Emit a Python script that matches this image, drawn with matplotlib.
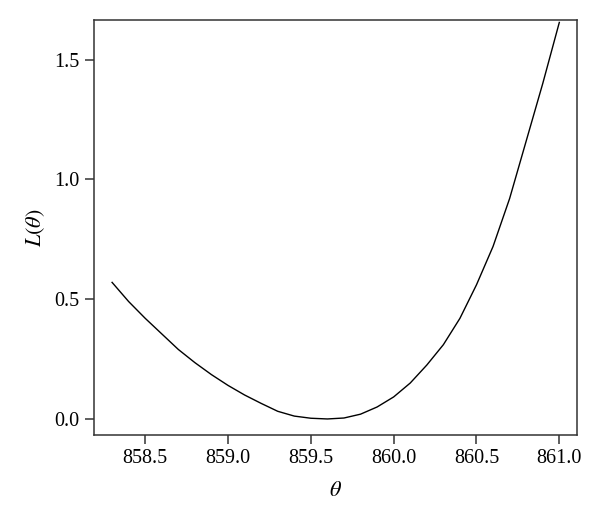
import matplotlib
matplotlib.use("Agg")
import matplotlib.pyplot as plt

# values (step 0.1)
theta = [858.3, 858.4, 858.5, 858.6, 858.7, 858.8, 858.9, 859.0, 859.1, 859.2,
         859.3, 859.4, 859.5, 859.6, 859.7, 859.8, 859.9, 860.0, 860.1, 860.2,
         860.3, 860.4, 860.5, 860.6, 860.7, 860.8, 860.9, 861.0]
loss = [0.57, 0.49, 0.42, 0.355, 0.29, 0.235, 0.185, 0.14, 0.10, 0.065,
        0.032, 0.012, 0.003, 0.0, 0.004, 0.02, 0.05, 0.092, 0.15, 0.225,
        0.31, 0.42, 0.56, 0.72, 0.92, 1.16, 1.40, 1.655]

xticks = [858.5, 859.0, 859.5, 860.0, 860.5, 861.0]
yticks = [0.0, 0.5, 1.0, 1.5]

plt.rcParams['font.family'] = ['Liberation Serif', 'DejaVu Serif']
plt.rcParams['mathtext.fontset'] = 'stix'

fig = plt.figure(figsize=(6, 5.27), dpi=100)
ax = fig.add_axes([0.157, 0.175, 0.805, 0.787])

ax.plot(theta, loss, color='black', linewidth=1.0)

ax.set_xlim(858.192, 861.108)
ax.set_ylim(-0.066, 1.665)
ax.set_xticks(xticks)
ax.set_xticklabels([f"{t:.1f}" for t in xticks])
ax.set_yticks(yticks)
ax.set_yticklabels([f"{t:.1f}" for t in yticks])

for sp in ax.spines.values():
    sp.set_color('#333333')
    sp.set_linewidth(1.1)
ax.tick_params(direction='out', length=6.5, width=1.1, color='#333333',
               labelsize=14.5, pad=4)

ax.set_xlabel(r'$\theta$', fontsize=16, labelpad=10)
ax.set_ylabel(r'$L(\theta)$', fontsize=16, labelpad=5)

fig.savefig('out.png', dpi=100)
